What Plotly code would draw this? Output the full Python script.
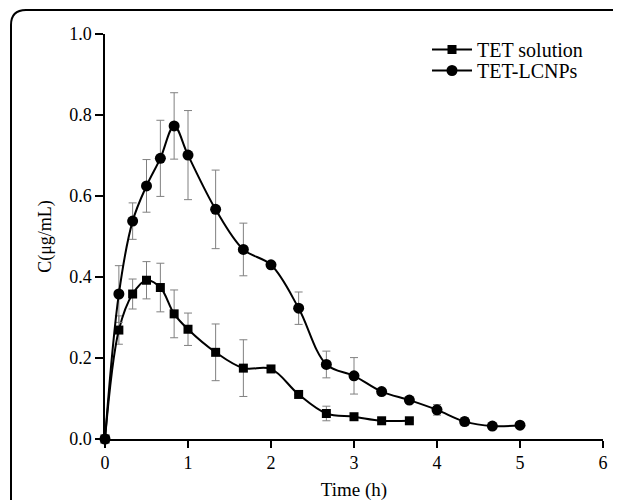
import plotly.graph_objects as go

time_sol = [0, 0.167, 0.333, 0.5, 0.667, 0.833, 1.0, 1.333, 1.667, 2.0, 2.333, 2.667, 3.0, 3.333, 3.667]
conc_sol = [0, 0.269, 0.358, 0.392, 0.374, 0.309, 0.271, 0.214, 0.175, 0.173, 0.110, 0.063, 0.055, 0.045, 0.045]
err_sol = [0, 0.035, 0.037, 0.046, 0.060, 0.059, 0.040, 0.070, 0.070, 0.0, 0.0, 0.018, 0.0, 0.0, 0.0]

time_lc = [0, 0.167, 0.333, 0.5, 0.667, 0.833, 1.0, 1.333, 1.667, 2.0, 2.333, 2.667, 3.0, 3.333, 3.667, 4.0, 4.333, 4.667, 5.0]
conc_lc = [0, 0.358, 0.538, 0.625, 0.693, 0.773, 0.701, 0.567, 0.468, 0.430, 0.323, 0.184, 0.156, 0.117, 0.096, 0.072, 0.043, 0.032, 0.034]
err_lc = [0, 0.070, 0.045, 0.065, 0.094, 0.082, 0.110, 0.097, 0.065, 0.0, 0.040, 0.033, 0.045, 0.0, 0.0, 0.013, 0.010, 0.0, 0.0]

x_ticks = [0, 1, 2, 3, 4, 5, 6]
y_ticks = [0.0, 0.2, 0.4, 0.6, 0.8, 1.0]

font = "Liberation Serif, Times New Roman, serif"

fig = go.Figure()
fig.add_trace(go.Scatter(
    x=time_sol, y=conc_sol, name="TET solution", mode="lines+markers",
    line=dict(color="black", width=2, shape="spline", smoothing=1),
    marker=dict(symbol="square", size=9, color="black"),
    error_y=dict(type="data", array=err_sol, color="#808080", thickness=1, width=4),
    cliponaxis=False, legend="legend",
))
fig.add_trace(go.Scatter(
    x=time_lc, y=conc_lc, name="TET-LCNPs", mode="lines+markers",
    line=dict(color="black", width=2, shape="spline", smoothing=1),
    marker=dict(symbol="circle", size=11, color="black"),
    error_y=dict(type="data", array=err_lc, color="#808080", thickness=1, width=4),
    cliponaxis=False, legend="legend2",
))

OFF = 8  # page body margin
W, H = 621, 500
# target plot-area in screenshot pixels
X0, X1, Y0, Y1 = 105, 603, 34, 439
L = X0 - OFF
T = Y0 - OFF
R = W + OFF - X1
B = H + OFF - Y1
pw, ph = X1 - X0, Y1 - Y0

def px(x):
    return (x - X0) / pw

def py(y):
    return (Y1 - y) / ph

r = 15
left, top = 11, 10
path = (f"M {px(left)} {py(540)} L {px(left)} {py(top + r)} "
        f"Q {px(left)} {py(top)} {px(left + r)} {py(top)} L {px(680)} {py(top)}")

leg_common = dict(xanchor="left", yanchor="top", bgcolor="rgba(0,0,0,0)",
                  font=dict(family=font, size=20), itemwidth=40)

fig.update_layout(
    width=W, height=H,
    margin=dict(l=L, r=R, t=T, b=B, autoexpand=False),
    paper_bgcolor="white", plot_bgcolor="white",
    font=dict(family=font, size=18, color="black"),
    showlegend=True,
    legend=dict(x=px(427), y=py(30), **leg_common),
    legend2=dict(x=px(427), y=py(51), **leg_common),
    xaxis=dict(range=[0, 6], tickvals=x_ticks, ticks="outside", ticklen=7,
               tickwidth=1.5, tickcolor="black", showline=True, linecolor="black",
               linewidth=1.5, showgrid=False, zeroline=False,
               title=dict(text="Time (h)", font=dict(family=font, size=19), standoff=10)),
    yaxis=dict(range=[0, 1.0], tickvals=y_ticks, tickformat=".1f", ticks="outside",
               ticklen=8, tickwidth=1.5, tickcolor="black", showline=True,
               linecolor="black", linewidth=1.5, showgrid=False, zeroline=False,
               title=dict(text="C(μg/mL)", font=dict(family=font, size=18), standoff=13)),
    shapes=[dict(type="path", xref="paper", yref="paper", path=path,
                 line=dict(color="black", width=2))],
)

fig.write_html("out.html")
